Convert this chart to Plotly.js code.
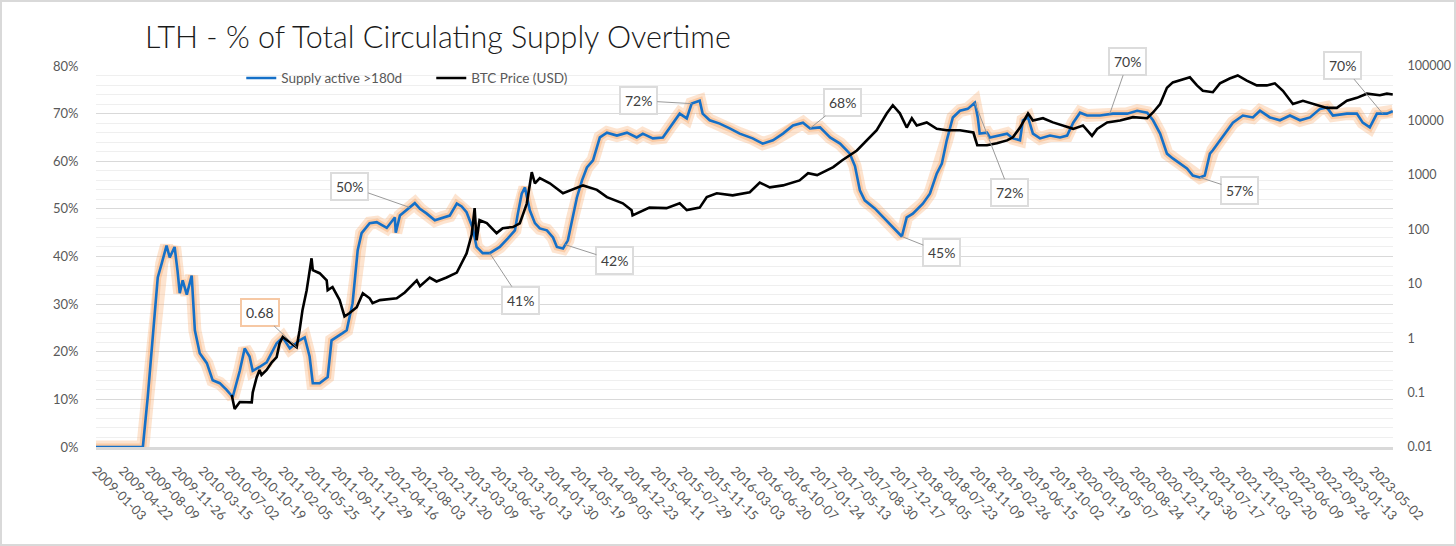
<!DOCTYPE html>
<html><head><meta charset="utf-8">
<script src="https://cdn.plot.ly/plotly-3.0.1.min.js"></script>
<style>
html,body{margin:0;padding:0;background:#fff}
#wrap{position:relative;width:1456px;height:546px}
#chart{width:1456px;height:546px}
#frame{position:absolute;left:0;top:0;width:1456px;height:546px;box-sizing:border-box;border:2px solid #d9d9d9;pointer-events:none}
</style>
</head><body><div id="wrap"><div id="chart"></div><div id="frame"></div></div>
<script>
const supplyDates = ['2009-01-03','2009-07-14','2009-08-03','2009-08-19','2009-09-01','2009-09-13','2009-09-29','2009-10-19','2009-11-01','2009-11-21','2009-12-03','2009-12-12','2009-12-24','2010-01-10','2010-01-30','2010-02-12','2010-03-04','2010-04-02','2010-04-26','2010-05-25','2010-06-22','2010-07-17','2010-08-15','2010-09-04','2010-09-24','2010-10-07','2010-11-04','2010-12-03','2011-01-13','2011-02-07','2011-03-08','2011-04-17','2011-05-08','2011-05-28','2011-06-10','2011-07-08','2011-08-10','2011-08-26','2011-10-10','2011-10-27','2011-11-20','2011-12-11','2011-12-27','2012-01-29','2012-02-27','2012-04-08','2012-05-11','2012-05-15','2012-06-01','2012-07-11','2012-08-01','2012-08-22','2012-09-19','2012-10-22','2012-11-23','2012-12-22','2013-01-20','2013-02-09','2013-03-01','2013-03-26','2013-04-11','2013-05-06','2013-06-04','2013-07-15','2013-08-17','2013-09-15','2013-09-27','2013-10-13','2013-10-26','2013-11-03','2013-11-15','2013-12-06','2013-12-26','2014-01-24','2014-02-18','2014-03-06','2014-03-31','2014-04-20','2014-05-07','2014-05-27','2014-06-17','2014-07-07','2014-08-01','2014-08-29','2014-09-27','2014-11-07','2014-12-18','2015-01-27','2015-02-21','2015-04-03','2015-05-14','2015-06-11','2015-07-22','2015-08-20','2015-09-09','2015-10-12','2015-10-24','2015-11-22','2016-01-02','2016-02-12','2016-03-24','2016-05-16','2016-06-26','2016-08-07','2016-09-17','2016-10-28','2016-12-08','2017-01-06','2017-02-16','2017-03-29','2017-05-09','2017-06-18','2017-07-09','2017-07-29','2017-08-18','2017-09-28','2017-11-08','2017-12-19','2018-01-17','2018-02-06','2018-03-03','2018-04-13','2018-05-12','2018-06-09','2018-06-30','2018-07-20','2018-08-14','2018-09-12','2018-10-14','2018-11-12','2018-11-24','2018-12-02','2019-01-01','2019-01-13','2019-02-23','2019-03-24','2019-04-17','2019-05-16','2019-05-28','2019-06-18','2019-07-08','2019-08-06','2019-09-16','2019-10-27','2019-11-25','2019-12-20','2020-01-17','2020-02-15','2020-04-08','2020-05-31','2020-07-28','2020-09-07','2020-10-18','2020-11-11','2020-12-10','2021-01-07','2021-01-31','2021-03-01','2021-03-30','2021-04-23','2021-05-22','2021-06-11','2021-07-02','2021-07-14','2021-08-12','2021-09-09','2021-10-04','2021-11-14','2021-12-25','2022-01-23','2022-03-05','2022-04-15','2022-05-26','2022-07-06','2022-08-16','2022-09-26','2022-10-24','2022-11-18','2023-01-14','2023-02-24','2023-03-20','2023-04-18','2023-05-17','2023-06-27','2023-07-21'];
const supplyPct = [0,0,10.5,19.7,28.7,35.6,38.5,42.3,39.8,42,37,32.3,35,32,36,24.5,19.7,17.6,14,13.4,12,10.5,16,20.7,19,16,16.8,17.8,21.8,23,20.7,22.4,23,19,13.4,13.4,14.7,22.4,23.9,24.5,30.2,41.3,44.9,47,47.2,46,48.2,45,48.6,50.3,51.2,50,49,47.6,48.2,48.6,51.1,50.5,49.3,46,42,40.7,40.7,42,43.8,45.5,49,53.2,54.5,52.8,49.7,47,45.9,45.5,44,42,41.7,43.4,47.6,52.4,56,58.7,60.2,65,66,65.4,66,65,65.8,64.8,65,67.1,70,69,72.1,72.7,70,68.6,67.9,66.9,65.8,64.8,63.7,64.4,65.8,67.5,68.1,66.9,67.1,65,63.7,61.6,59,53.9,51.8,50.1,48,45.9,44.2,48.2,49,51.1,53.2,57.4,59.5,64.4,69.2,70.6,71,72.3,69.2,65.8,66,65,65.4,65.8,64.8,64.4,68.6,69.2,65.8,64.8,65.4,65,65.4,68.1,70.2,69.6,69.6,70,70,70.6,70.2,68.6,65.8,61.6,60.6,59.5,58.5,57,56.6,57,61.6,62.3,64.4,66.5,68.1,69.6,69.2,70.6,69.2,68.6,69.6,68.6,69.2,71,71.3,69.6,70,70,68.1,67.1,70,70,70.5];

const priceDates = ['2010-07-13','2010-07-25','2010-08-15','2010-10-03','2010-10-07','2010-10-23','2010-11-04','2010-11-12','2010-12-03','2010-12-24','2011-01-13','2011-01-25','2011-02-07','2011-03-08','2011-04-05','2011-04-17','2011-04-29','2011-05-16','2011-05-28','2011-06-05','2011-06-10','2011-07-08','2011-08-06','2011-08-10','2011-08-30','2011-09-28','2011-10-18','2011-11-08','2011-12-07','2012-01-01','2012-01-29','2012-02-10','2012-03-11','2012-05-19','2012-06-21','2012-08-09','2012-08-22','2012-10-01','2012-10-29','2012-12-09','2013-01-20','2013-02-14','2013-03-01','2013-03-22','2013-04-03','2013-04-11','2013-04-23','2013-05-23','2013-07-02','2013-07-27','2013-09-07','2013-10-05','2013-11-03','2013-11-23','2013-12-06','2013-12-26','2014-02-05','2014-03-31','2014-05-27','2014-06-21','2014-08-17','2014-09-27','2014-12-01','2015-01-06','2015-01-10','2015-03-20','2015-05-29','2015-07-22','2015-08-20','2015-10-12','2015-11-10','2015-12-21','2016-02-24','2016-05-04','2016-06-14','2016-07-25','2016-09-17','2016-11-24','2016-12-29','2017-02-04','2017-04-11','2017-05-18','2017-07-17','2017-08-27','2017-10-06','2017-11-16','2017-12-11','2018-01-09','2018-02-06','2018-02-27','2018-03-19','2018-04-29','2018-06-09','2018-07-20','2018-09-12','2018-11-06','2018-11-22','2019-01-01','2019-02-10','2019-03-24','2019-04-17','2019-05-16','2019-06-18','2019-07-08','2019-08-18','2019-09-28','2019-11-07','2019-12-20','2020-01-29','2020-03-06','2020-03-27','2020-05-07','2020-06-29','2020-08-21','2020-10-18','2020-11-11','2020-12-10','2021-01-07','2021-01-31','2021-03-01','2021-04-11','2021-05-10','2021-06-03','2021-07-14','2021-08-12','2021-09-21','2021-10-24','2021-11-30','2022-01-10','2022-02-20','2022-03-25','2022-04-27','2022-06-07','2022-07-18','2022-08-28','2022-10-24','2022-12-04','2023-01-14','2023-02-24','2023-04-06','2023-05-29','2023-06-27','2023-07-21'];
const priceUsd = [0.09,0.05,0.067,0.066,0.1,0.19,0.26,0.21,0.26,0.36,0.45,0.8,1.05,0.85,0.68,1.4,3.3,7.6,15.5,29.3,17.8,15.6,11.5,7.6,8.7,5,2.5,2.9,3.7,6.7,5.4,4.4,5,5.4,6.9,11.5,9,13,11,13,16,27,36,80,245,63,147,130,85,105,110,128,300,1120,700,870,700,460,590,640,530,390,300,225,180,250,245,300,225,250,390,460,420,480,720,590,640,790,1070,990,1390,1860,2800,4300,6600,13400,19000,13500,7400,11000,8100,9200,7000,6600,6600,6000,3500,3500,3800,4300,4900,7400,13400,10000,11000,9200,8100,7000,8100,5200,7000,9200,10000,11500,11000,14000,20000,40000,50000,54000,62000,44000,35000,33000,48000,59000,67000,54000,44000,44000,48000,35000,20000,23000,20000,17000,17000,23000,26000,31000,29000,31000,30000];

const tickLabels = ['2009-01-03','2009-04-22','2009-08-09','2009-11-26','2010-03-15','2010-07-02','2010-10-19','2011-02-05','2011-05-25','2011-09-11','2011-12-29','2012-04-16','2012-08-03','2012-11-20','2013-03-09','2013-06-26','2013-10-13','2014-01-30','2014-05-19','2014-09-05','2014-12-23','2015-04-11','2015-07-29','2015-11-15','2016-03-03','2016-06-20','2016-10-07','2017-01-24','2017-05-13','2017-08-30','2017-12-17','2018-04-05','2018-07-23','2018-11-09','2019-02-26','2019-06-15','2019-10-02','2020-01-19','2020-05-07','2020-08-24','2020-12-11','2021-03-30','2021-07-17','2021-11-03','2022-02-20','2022-06-09','2022-09-26','2023-01-13','2023-05-02'];
const rightTickVals = [0.01,0.1,1,10,100,1000,10000,100000];
const rightTickText = ['0.01','0.1','1','10','100','1000','10000','100000'];

const calloutTexts = ['0.68','50%','41%','42%','72%','68%','45%','72%','70%','57%','70%'];
const calloutDates = ['2011-04-05','2012-07-11','2013-06-04','2014-04-08','2015-09-09','2017-01-06','2018-01-17','2018-11-12','2020-05-18','2021-05-22','2023-06-10'];
const calloutValues = [0.68,50.3,40.7,42.5,72.1,66.9,44.2,72.3,70,56.6,70];
const calloutAxes = ['y2','y','y','y','y','y','y','y','y','y','y'];

// label box offsets (px) from the pointed value
const offsets = [[-37,-35],[-60,-21],[31,47],[50,16],[-53,-3],[32,-26],[40,16],[35,90],[18,-52],[40,13],[-40,-48]];

const FONT = 'Lato, "Open Sans", sans-serif';
const traces = [
  {x: supplyDates, y: supplyPct, type:'scatter', mode:'lines', yaxis:'y', showlegend:false, hoverinfo:'skip',
   line:{color:'rgba(247,165,100,0.30)', width:13}},
  {x: supplyDates, y: supplyPct, type:'scatter', mode:'lines', yaxis:'y', showlegend:false, hoverinfo:'skip',
   line:{color:'rgba(247,165,100,0.40)', width:7}},
  {x: supplyDates, y: supplyPct, type:'scatter', mode:'lines', yaxis:'y', name:'Supply active >180d',
   line:{color:'#1570c8', width:2.6}},
  {x: priceDates, y: priceUsd, type:'scatter', mode:'lines', yaxis:'y2', name:'BTC Price (USD)',
   line:{color:'#000000', width:2.6}}
];

const annotations = calloutTexts.map((t,i)=>({
  x: calloutDates[i], xref:'x',
  y: calloutAxes[i]==='y2' ? Math.log10(calloutValues[i]) : calloutValues[i], yref: calloutAxes[i],
  text: t, showarrow:true, arrowhead:0, arrowwidth:1, arrowcolor:'#9a9a9a',
  ax: offsets[i][0], ay: offsets[i][1], axref:'pixel', ayref:'pixel',
  bgcolor:'#ffffff', bordercolor: i===0 ? '#f6c8a4' : '#dcdcdc', borderwidth: 2, borderpad: 4,
  font:{family:FONT, size:14, color:'#404040'}
}));

const layout = {
  width:1456, height:546,
  margin:{l:96, r:63, t:66, b:99},
  paper_bgcolor:'#ffffff', plot_bgcolor:'#ffffff',
  font:{family:FONT, color:'#595959'},
  title:{text:'LTH - % of Total Circulating Supply Overtime', xref:'container', yref:'container',
    x:145/1456, xanchor:'left', y:1-37/546, yanchor:'middle',
    font:{family:FONT, size:30.5, color:'#1a1a1a', weight:300}},
  showlegend:true,
  legend:{orientation:'h', x:0.112, xanchor:'left', y:0.968, yanchor:'middle', entrywidth:145, entrywidthmode:'pixels',
    bgcolor:'rgba(0,0,0,0)', font:{family:FONT, size:13.5, color:'#595959'}},
  hovermode:false,
  xaxis:{type:'date', range:['2009-01-03','2023-07-22'], tickmode:'array', tickvals:tickLabels, ticktext:tickLabels,
    tickangle:45, showgrid:false, showline:true, linecolor:'#d9d9d9', linewidth:3, zeroline:false,
    ticks:'outside', ticklen:8, tickcolor:'rgba(0,0,0,0)', automargin:false,
    tickfont:{family:FONT, size:13, color:'#595959'}},
  yaxis:{range:[0,80], dtick:10, ticksuffix:'%', showgrid:true, gridcolor:'#d9d9d9', gridwidth:1, zeroline:false,
    ticks:'outside', ticklen:14, tickcolor:'rgba(0,0,0,0)', automargin:false,
    minor:{dtick:2, showgrid:true, gridcolor:'#efefef', gridwidth:1},
    tickfont:{family:FONT, size:13, color:'#595959'}},
  yaxis2:{type:'log', range:[-2,5], overlaying:'y', side:'right', tickmode:'array', tickvals:rightTickVals, ticktext:rightTickText,
    showgrid:false, zeroline:false, ticks:'outside', ticklen:11, tickcolor:'rgba(0,0,0,0)', automargin:false,
    tickfont:{family:FONT, size:12.5, color:'#595959'}},
  annotations: annotations
};

Plotly.newPlot('chart', traces, layout, {displayModeBar:false, staticPlot:true});
</script>
</body></html>
